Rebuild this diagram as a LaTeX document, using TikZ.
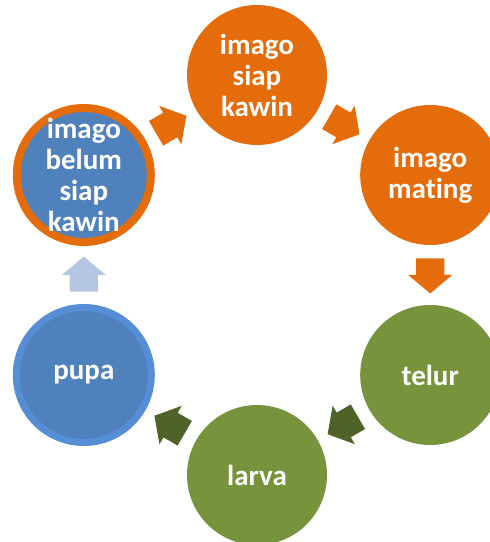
\documentclass[tikz,border=0pt]{standalone}
\usepackage{fontspec}
\setsansfont{Carlito}[Ligatures={NoCommon,NoRare}]
\usetikzlibrary{shapes.arrows,calc}
\definecolor{stageorange}{HTML}{E46C0A}
\definecolor{stagegreen}{HTML}{77933C}
\definecolor{stageblue}{HTML}{4F81BD}
\definecolor{rimblue}{HTML}{558ED5}
\definecolor{paleblue}{HTML}{B4C7E2}
\definecolor{darkgreen}{HTML}{4F6228}
\tikzset{
  stagetext/.style={align=center, text=white, inner sep=0pt, font=\sffamily\bfseries\fontsize{29}{31}\selectfont},
  stage/.style={circle, minimum size=140pt, inner sep=0pt, label={[stagetext]center:{#1}}},
  blockarr/.style={single arrow, minimum height=35pt, minimum width=44pt, inner xsep=0pt, inner ysep=14pt, single arrow head extend=8pt, single arrow tip angle=100}
}
\begin{document}
\begin{tikzpicture}[x=1pt, y=1pt]
    \useasboundingbox (0,0) rectangle (490,542);
    \coordinate (mid) at (257,267);
    % life-cycle stages
    \node[stage={imago\\siap\\kawin}, fill=stageorange] (siap) at ($(mid)+(90:200)$) {};
    \node[stage={imago\\mating}, fill=stageorange] (mating) at ($(mid)+(30:200)$) {};
    \node[stage={telur}, fill=stagegreen] (telur) at ($(mid)+(-30:200)$) {};
    \node[stage={larva}, fill=stagegreen] (larva) at ($(mid)+(-90:200)$) {};
    \node[stage={pupa}, fill=stageblue, draw=rimblue, line width=7pt, minimum size=135pt] (pupa) at ($(mid)+(210:200)$) {};
    \node[stage={imago\\belum\\siap\\kawin}, fill=stageblue, draw=stageorange, line width=8pt, minimum size=134pt] (belum) at ($(mid)+(150:200)$) {};
    % block arrows between stages
    \node[blockarr, fill=paleblue, rotate=90] (pupa-belum) at ($(pupa)!0.475!(belum)$) {};
    \node[blockarr, fill=stageorange, rotate=30] (belum-siap) at ($(belum)!0.475!(siap)$) {};
    \node[blockarr, fill=stageorange, rotate=-30] (siap-mating) at ($(siap)!0.475!(mating)$) {};
    \node[blockarr, fill=stageorange, rotate=-90] (mating-telur) at ($(mating)!0.475!(telur)$) {};
    \node[blockarr, fill=darkgreen, rotate=210] (telur-larva) at ($(telur)!0.475!(larva)$) {};
    \node[blockarr, fill=darkgreen, rotate=150] (larva-pupa) at ($(larva)!0.475!(pupa)$) {};
\end{tikzpicture}
\end{document}
